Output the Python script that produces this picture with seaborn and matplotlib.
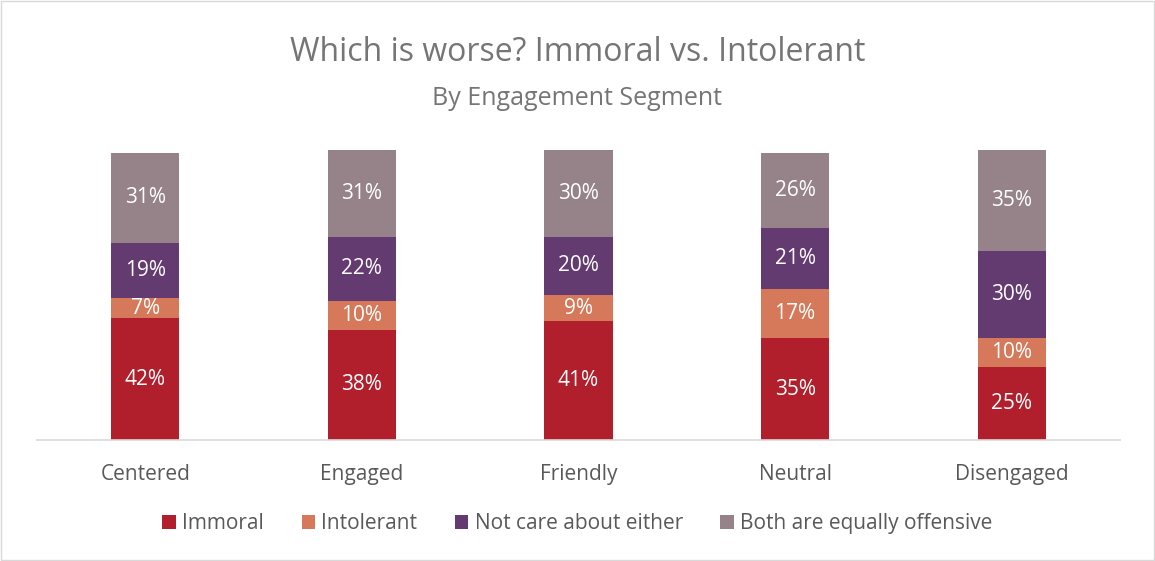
import matplotlib
matplotlib.use("Agg")
import matplotlib.pyplot as plt
from matplotlib.patches import Patch, Rectangle
import seaborn as sns
import pandas as pd
import numpy as np

segments = ["Centered", "Engaged", "Friendly", "Neutral", "Disengaged"]
immoral = [42, 38, 41, 35, 25]
intolerant = [7, 10, 9, 17, 10]
not_care = [19, 22, 20, 21, 30]
both_offensive = [31, 31, 30, 26, 35]

series_names = ["Immoral", "Intolerant", "Not care about either", "Both are equally offensive"]
series_values = [immoral, intolerant, not_care, both_offensive]
colors = ["#B01F2B", "#D5795A", "#643B70", "#968389"]

sns.set_theme(style="white")
plt.rcParams["font.family"] = ["Open Sans", "DejaVu Sans"]

fig = plt.figure(figsize=(11.55, 5.61), dpi=100)
ax = fig.add_axes([0.032, 0.2157, 0.9377, 0.517])

df = pd.DataFrame({"segment": segments})
bottom = np.zeros(len(segments))
for name, vals, col in zip(series_names, series_values, colors):
    df[name] = vals
    sns.barplot(data=df, x="segment", y=name, order=segments, color=col,
                bottom=bottom, width=0.315, ax=ax, saturation=1,
                edgecolor="none", linewidth=0)
    cont = ax.containers[-1]
    ax.bar_label(cont, labels=[f"{v}%" for v in vals], label_type="center",
                 color="white", fontsize=15)
    bottom = bottom + np.array(vals)

ax.set_xlim(-0.5, 4.5)
ax.set_ylim(0, 100)
ax.set_xlabel("")
ax.set_ylabel("")
ax.set_yticks([])
for s in ["top", "right", "left"]:
    ax.spines[s].set_visible(False)
ax.spines["bottom"].set_color("#D9D9D9")
ax.spines["bottom"].set_linewidth(1.2)
ax.tick_params(axis="x", length=0, pad=17, labelsize=15, labelcolor="#595959")

fig.text(0.5, 0.907, "Which is worse? Immoral vs. Intolerant", ha="center", va="center",
         fontsize=23, color="#757575")
fig.text(0.5, 0.825, "By Engagement Segment", ha="center", va="center",
         fontsize=18, color="#757575")

handles = [Patch(facecolor=c, edgecolor="none", label=n) for n, c in zip(series_names, colors)]
fig.legend(handles=handles, loc="center", bbox_to_anchor=(0.5, 0.066), ncol=4,
           frameon=False, fontsize=15, handlelength=0.65, handleheight=0.65,
           handletextpad=0.3, columnspacing=1.8, labelcolor="#595959")

fig.patches.append(Rectangle((0.001, 0.001), 0.998, 0.998, transform=fig.transFigure,
                             fill=False, edgecolor="#D9D9D9", linewidth=1))

fig.savefig("out.png", dpi=100, facecolor="white")
